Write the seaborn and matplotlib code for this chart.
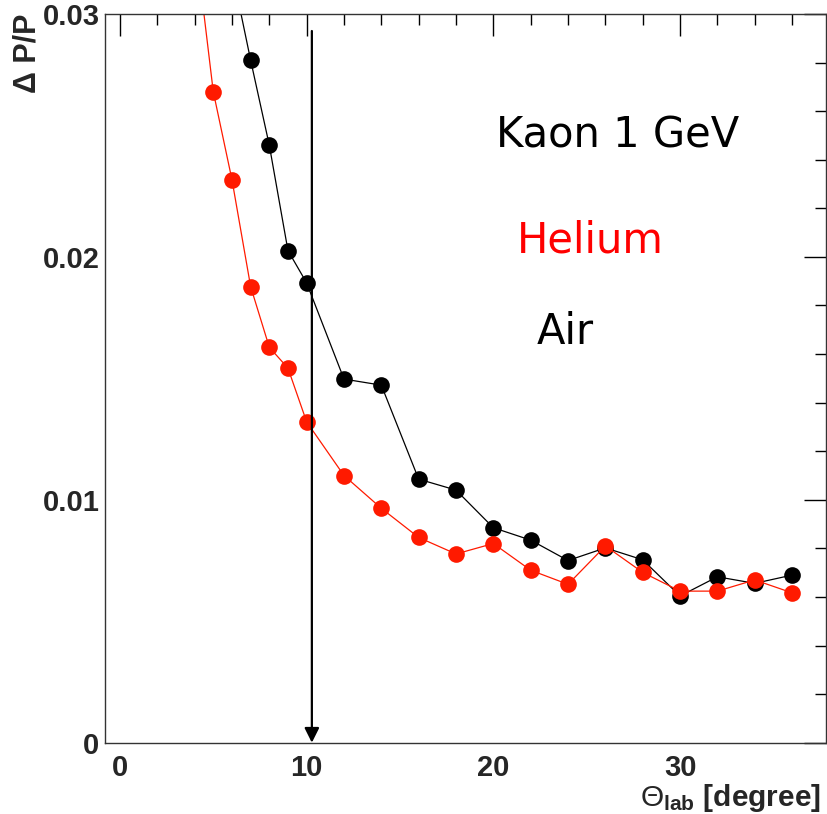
import matplotlib
matplotlib.use("Agg")
import matplotlib.pyplot as plt
import seaborn as sns
import pandas as pd

# values
theta_air = [6, 7, 8, 9, 10, 12, 14, 16, 18, 20, 22, 24, 26, 28, 30, 32, 34, 36]
dpp_air = [0.0318, 0.0281, 0.0246, 0.02026, 0.01893, 0.01497, 0.01472, 0.01085, 0.0104,
           0.00885, 0.00834, 0.0075, 0.00802, 0.00753, 0.00604, 0.00683, 0.00656, 0.0069]
theta_he = [4, 5, 6, 7, 8, 9, 10, 12, 14, 16, 18, 20, 22, 24, 26, 28, 30, 32, 34, 36]
dpp_he = [0.0332, 0.0268, 0.02318, 0.01878, 0.01628, 0.01542, 0.01321, 0.011, 0.00965,
          0.00845, 0.00777, 0.0082, 0.0071, 0.00652, 0.0081, 0.00701, 0.00624, 0.00624,
          0.0067, 0.00617]
cut_theta = 10.28
cut_top = 0.0293

air = pd.DataFrame({'theta': theta_air, 'dpp': dpp_air})
he = pd.DataFrame({'theta': theta_he, 'dpp': dpp_he})

sns.set_style('white')
plt.rcParams['font.family'] = ['Liberation Sans', 'DejaVu Sans']
plt.rcParams['mathtext.fontset'] = 'custom'
plt.rcParams['mathtext.rm'] = 'Liberation Sans'
plt.rcParams['mathtext.bf'] = 'Liberation Sans:bold'
plt.rcParams['mathtext.it'] = 'Liberation Sans:italic'

fig = plt.figure(figsize=(8.28, 8.14), dpi=100)
ax = fig.add_axes([0.1268, 0.0876, 0.8704, 0.8952])

sns.lineplot(data=air, x='theta', y='dpp', color='black', marker='o', markersize=12,
             markeredgewidth=0, linewidth=0.9, ax=ax)
sns.lineplot(data=he, x='theta', y='dpp', color='#ff1a00', marker='o', markersize=12,
             markeredgewidth=0, linewidth=0.9, ax=ax)

# cut marker
ax.annotate('', xy=(cut_theta, 0), xytext=(cut_theta, cut_top),
            arrowprops=dict(arrowstyle='-|>', lw=1.6, color='black', mutation_scale=22,
                            shrinkA=0, shrinkB=0))

ax.set_xlim(-0.8, 37.8)
ax.set_ylim(0, 0.03)
ax.set_xticks([0, 10, 20, 30])
ax.set_xticks(range(2, 38, 2), minor=True)
ax.set_yticks([0, 0.01, 0.02, 0.03])
ax.set_yticklabels(['0', '0.01', '0.02', '0.03'])
ax.set_yticks([i * 0.002 for i in range(1, 15)], minor=True)
ax.tick_params(which='both', direction='in', top=True, right=True, color='black', width=1)
ax.tick_params(which='major', length=16, labelsize=21)
ax.tick_params(axis='y', which='major', pad=4)
ax.tick_params(axis='x', which='major', pad=8)
ax.tick_params(which='minor', length=8)
for lab in ax.get_xticklabels() + ax.get_yticklabels():
    lab.set_fontweight('bold')
for s in ax.spines.values():
    s.set_color('#333333')
    s.set_linewidth(1)

ax.set_xlabel(r'$\Theta_{\mathbf{lab}}$ [degree]', fontsize=21.5, fontweight='bold',
              loc='right', labelpad=0)
ax.xaxis.label.set_x(0.994)
ax.set_ylabel('Δ P/P', fontsize=22, fontweight='bold', loc='top', labelpad=0)

ax.text(0.712, 0.833, 'Kaon 1 GeV', transform=ax.transAxes, fontsize=30,
        family='DejaVu Sans', ha='center', va='center', color='black')
ax.text(0.673, 0.689, 'Helium', transform=ax.transAxes, fontsize=30,
        family='DejaVu Sans', ha='center', va='center', color='#ff0000')
ax.text(0.639, 0.563, 'Air', transform=ax.transAxes, fontsize=30,
        family='DejaVu Sans', ha='center', va='center', color='black')

fig.savefig('out.png', dpi=100)
